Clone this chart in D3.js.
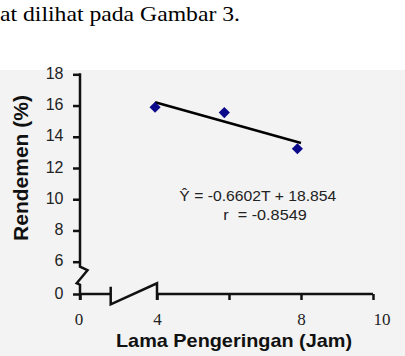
<!DOCTYPE html>
<html>
<head>
<meta charset="utf-8">
<script src="https://cdn.jsdelivr.net/npm/d3@7"></script>
<style>
  body { margin: 0; background: #fff; }
  svg { display: block; }
</style>
</head>
<body>
<svg id="chart" width="405" height="356"></svg>
<script>
// values
const jam = [3.9, 5.87, 7.9];
const rendemen = [15.89, 15.55, 13.23];
const trendJam = [3.9, 8.0];
const trendRendemen = [16.21, 13.6];
const yTicks = [0, 6, 8, 10, 12, 14, 16, 18];
const xTicks = [0, 4, 6, 8, 10];
const xLabels = [0, 4, 8, 10];
const equation = "Ŷ = -0.6602T + 18.854";
const corr = "r  = -0.8549";
const caption = "at dilihat pada Gambar 3.";

const sans = "'Liberation Sans', Arial, sans-serif";
const serif = "'Liberation Serif', 'Times New Roman', serif";
const ink = "#111";

const svg = d3.select("#chart");

// grey panel below the caption
svg.append("rect").attr("x", 0).attr("y", 70).attr("width", 405).attr("height", 286)
    .attr("fill", "#f3f3f3");

svg.append("text").attr("x", 0).attr("y", 21)
    .attr("font-family", serif).attr("font-size", 22)
    .attr("textLength", 240).attr("lengthAdjust", "spacingAndGlyphs")
    .text(caption);

// broken axes: piecewise scales
const x = d3.scaleLinear().domain([0, 4, 10]).range([80, 157, 373]);
const y = d3.scaleLinear().domain([0, 6, 18]).range([294, 261.7, 74.3]);

// y axis ticks + labels
const yAxis = svg.append("g").attr("transform", "translate(80,0)")
    .call(d3.axisLeft(y).tickValues(yTicks).tickSize(7).tickPadding(9.5));
yAxis.select(".domain").remove();
yAxis.selectAll("line").attr("stroke", ink).attr("stroke-width", 2.5);
yAxis.selectAll("text").attr("font-family", sans).attr("font-size", 16)
    .attr("fill", "#222").attr("dy", "0.25em");

// x axis ticks (labels drawn separately in serif)
const xAxis = svg.append("g").attr("transform", "translate(0,294)")
    .call(d3.axisBottom(x).tickValues(xTicks).tickSize(6).tickFormat(""));
xAxis.select(".domain").remove();
xAxis.selectAll("line").attr("stroke", ink).attr("stroke-width", 2.5);

const axisPath = g => g.attr("fill", "none").attr("stroke", ink).attr("stroke-width", 2.5)
    .attr("stroke-linejoin", "miter");

// y axis line with zigzag break
const yb = y(6);
svg.append("path").call(axisPath).attr("d", d3.line()([
  [80, y(18) - 1], [80, yb + 5], [87.5, yb + 8.5], [76.7, yb + 21.5], [80, yb + 23], [80, y(0) + 6]
]));

// x axis line with slanted break
const xb = x(4);
svg.append("path").call(axisPath).attr("d", d3.line()([[x(0), 294], [xb - 46.3, 294]]));
svg.append("path").call(axisPath).attr("d", d3.line()([
  [xb - 46.3, 286.7], [xb - 46.3, 304.3], [xb, 283.3], [xb, 300]
]));
svg.append("path").call(axisPath).attr("d", d3.line()([[xb, 294], [x(10), 294]]));

// x tick labels
svg.append("g").selectAll("text").data(xLabels).join("text")
    .attr("x", d => x(d) + (d === 0 ? -1 : 0.5))
    .attr("y", 325)
    .attr("text-anchor", d => d === 10 ? "start" : "middle")
    .attr("font-family", serif).attr("font-size", 17).attr("fill", "#222")
    .text(d => d);

// trend line
svg.append("path")
    .attr("d", d3.line().x(d => x(d[0])).y(d => y(d[1]))(d3.zip(trendJam, trendRendemen)))
    .attr("stroke", "#000").attr("stroke-width", 2.5).attr("fill", "none");

// points
svg.append("g").selectAll("path").data(d3.zip(jam, rendemen)).join("path")
    .attr("transform", d => `translate(${x(d[0])},${y(d[1])}) rotate(45)`)
    .attr("d", d3.symbol(d3.symbolSquare, 62))
    .attr("fill", "#0a0a8a");

// equation
svg.append("text").attr("x", 179.3).attr("y", 200.7)
    .attr("font-family", sans).attr("font-size", 14.5).attr("fill", "#222")
    .attr("textLength", 157).attr("lengthAdjust", "spacingAndGlyphs")
    .text(equation);
svg.append("text").attr("x", 223.3).attr("y", 220)
    .attr("font-family", sans).attr("font-size", 14.5).attr("fill", "#222")
    .style("white-space", "pre")
    .attr("textLength", 83.4).attr("lengthAdjust", "spacingAndGlyphs")
    .text(corr);

// axis titles
svg.append("text").attr("x", 116).attr("y", 346.5)
    .attr("font-family", sans).attr("font-size", 19).attr("font-weight", "bold")
    .attr("fill", "#111")
    .attr("textLength", 236).attr("lengthAdjust", "spacingAndGlyphs")
    .text("Lama Pengeringan (Jam)");
svg.append("text").attr("transform", "translate(28,168) rotate(-90)")
    .attr("text-anchor", "middle")
    .attr("font-family", sans).attr("font-size", 21).attr("font-weight", "bold")
    .attr("fill", "#111")
    .text("Rendemen (%)");
</script>
</body>
</html>
